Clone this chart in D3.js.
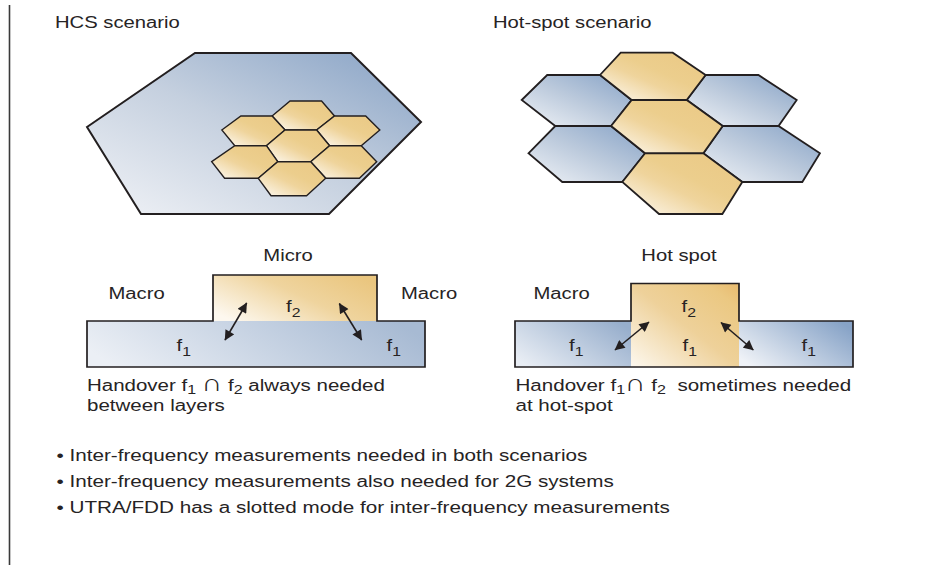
<!DOCTYPE html>
<html><head><meta charset="utf-8">
<script src="https://cdn.jsdelivr.net/npm/d3@7"></script>
<style>html,body{margin:0;padding:0;background:#fff}svg{display:block}text{font-family:"Liberation Sans",Arial,Helvetica,sans-serif;fill:#262324}</style>
</head><body>
<svg id="c" width="925" height="565"></svg>
<script>
// ---------- content ----------
const titles = ["HCS scenario", "Hot-spot scenario"];
const bullets = [
  "Inter-frequency measurements needed in both scenarios",
  "Inter-frequency measurements also needed for 2G systems",
  "UTRA/FDD has a slotted mode for inter-frequency measurements"
];
const hcsLabels = ["Micro", "Macro", "Macro"];
const hotLabels = ["Hot spot", "Macro"];
const hcsCaption = [["Handover f", {sub: "1"}, " ", {sym: "\u2229"}, " f", {sub: "2"}, " always needed"], ["between layers"]];
const hotCaption = [["Handover f", {sub: "1"}, {sym: "\u2229"}, " f", {sub: "2"}, "\u00a0 sometimes needed"], ["at hot-spot"]];

// hexagon lattice cells: [q, row] (q in circumradius units, row in half-height units)
const hexUnit = [[-1, 0], [-0.5, -1], [0.5, -1], [1, 0], [0.5, 1], [-0.5, 1]];
const bigHexCell = [[0, 0]];
const hcsMicroCells = [[0, -2], [-1.5, -1], [1.5, -1], [0, 0], [-1.5, 1], [1.5, 1], [0, 2]];
const hotGoldCells = [[0, -2], [0, 0], [0, 2]];
const hotBlueCells = [[-1.5, -1], [1.5, -1], [-1.5, 1], [1.5, 1]];
const rows7 = [-3, -2, -1, 0, 1, 2, 3];

// ---------- perspective projections (d3 scales, per lattice row) ----------
const bigY = d3.scaleLinear().domain([-1, 0, 1]).range([53, 124.5, 214]);
const bigCx = d3.scaleLinear().domain([-1, 0, 1]).range([273, 254, 235]);
const bigS = d3.scaleLinear().domain([-1, 0, 1]).range([156, 167, 188]);
const bigTilt = d3.scaleLinear().domain([-1, 0, 1]).range([0, -2.5, 0]);

const hcsY = d3.scaleLinear().domain(rows7).range([101, 116, 130, 145.7, 161.7, 178.3, 195.7]);
const hcsCx = d3.scaleLinear().domain(rows7).range([305.8, 303.3, 300.8, 298, 294.2, 292, 288.8]);
const hcsS = d3.scaleLinear().domain(rows7).range([31.5, 31.2, 31.6, 31.6, 33, 33.7, 35.5]);

const hotY = d3.scaleLinear().domain(rows7).range([52.7, 75, 100, 126, 153.3, 182, 214]);
const hotCx = d3.scaleLinear().domain(rows7).range([646.7, 652.8, 659.2, 666.9, 674.2, 682.3, 690.7]);
const hotS = d3.scaleLinear().domain(rows7).range([52, 52.8, 55, 55.8, 58.3, 60, 63.3]);

function proj(ys, cxs, ss, tilt) {
  return ([q, r]) => [cxs(r) + q * ss(r), ys(r) + (tilt ? tilt(r) * q : 0)];
}
const pBig = proj(bigY, bigCx, bigS, bigTilt);
const pHcs = proj(hcsY, hcsCx, hcsS);
const pHot = proj(hotY, hotCx, hotS);

// ---------- layer profiles (x positions / y levels) ----------
const hcsBaseX = [87, 425];
const hcsMicroX = [213, 377];
const hcsLevels = {top: 275, mid: 321, bottom: 367};
const hotBaseX = [515, 853];
const hotSpotX = [631, 739];
const hotLevels = {top: 283.5, mid: 321, bottom: 367};

const arrows = [
  [[225, 340], [246.7, 303]],
  [[339.3, 303.5], [361.7, 340]],
  [[615, 350], [649, 322]],
  [[721, 322.5], [753.3, 350]]
];

// ---------- style ----------
const FS = 17.3, SX = 1.17, SUB = 13.5;
const INK = "#231f20";

const svg = d3.select("#c");
const defs = svg.append("defs");

function grad(id, stops, x1 = 0, y1 = 1, x2 = 1, y2 = 0) {
  const g = defs.append("linearGradient").attr("id", id)
    .attr("x1", x1).attr("y1", y1).attr("x2", x2).attr("y2", y2);
  stops.forEach(([o, c]) => g.append("stop").attr("offset", o).attr("stop-color", c));
}
grad("gBig", [[0, "#f1f3f7"], [0.5, "#c5d0df"], [1, "#87a2c5"]]);
grad("gGold", [[0, "#fefbf6"], [0.42, "#efd49c"], [0.58, "#ecce8d"], [1, "#eac884"]]);
grad("gBlue", [[0, "#f0f3f7"], [0.5, "#bccadc"], [1, "#87a3c7"]]);
grad("gMicro", [[0, "#fdf8ef"], [0.55, "#efd49e"], [1, "#eac67f"]], 0, 0.8, 1, 0.2);
grad("gBaseL", [[0, "#ebeff5"], [1, "#a7bad3"]], 0, 0.6, 1, 0.4);
grad("gHotL", [[0, "#e8edf4"], [1, "#97aecc"]], 0, 0.8, 1, 0.2);
grad("gHotG", [[0, "#fdf8ef"], [0.5, "#eed19a"], [0.85, "#ebc882"], [1, "#e8ba6e"]], 0, 1, 1, 0);
grad("gHotR", [[0, "#eff2f7"], [1, "#87a3c7"]], 0, 0.8, 1, 0.2);

defs.append("marker").attr("id", "ah")
  .attr("viewBox", "0 0 10 10").attr("refX", 9.5).attr("refY", 5)
  .attr("markerUnits", "userSpaceOnUse").attr("markerWidth", 11).attr("markerHeight", 10)
  .attr("orient", "auto-start-reverse")
  .append("path").attr("d", "M0,0 L10,5 L0,10 Z").attr("fill", INK);

// left rule
svg.append("line").attr("x1", 9.5).attr("x2", 9.5).attr("y1", 5).attr("y2", 565)
  .attr("stroke", "#3a3a3a").attr("stroke-width", 1.6);

const line = d3.line();

function hexes(cells, p, fill, sw) {
  svg.append("g").selectAll("path").data(cells).join("path")
    .attr("d", c => line(hexUnit.map(v => p([c[0] + v[0], c[1] + v[1]]))) + "Z")
    .attr("fill", fill).attr("stroke", INK).attr("stroke-width", sw)
    .attr("stroke-linejoin", "miter");
}

// HCS scenario
hexes(bigHexCell, pBig, "url(#gBig)", 2);
hexes(hcsMicroCells, pHcs, "url(#gGold)", 1.4);
// Hot-spot scenario
hexes(hotBlueCells, pHot, "url(#gBlue)", 1.8);
hexes(hotGoldCells, pHot, "url(#gGold)", 1.8);

// text helper: strings, {sub} subscripts, {sym} enlarged symbol
function label(x, y, parts, anchor = "start", opts = {}) {
  const fs = opts.fs || FS, sx = opts.sx || SX, dy = opts.dy || 5;
  const t = svg.append("text")
    .attr("transform", `translate(${x},${y}) scale(${sx},1)`)
    .attr("text-anchor", anchor).style("font-size", fs + "px");
  let shifted = false;
  parts.forEach(p => {
    let s;
    if (typeof p === "string") s = t.append("tspan").text(p);
    else if (p.sym) s = t.append("tspan").style("font-size", "24px").style("font-weight", 300).text(p.sym);
    else { t.append("tspan").attr("dy", dy).style("font-size", SUB + "px").text(p.sub); shifted = true; return; }
    if (shifted) { s.attr("dy", -dy); shifted = false; }
  });
  return t;
}

// titles
label(55, 27.5, [titles[0]]);
label(493, 27.5, [titles[1]]);

// ---- HCS layers diagram ----
{
  const [x0, x1] = hcsBaseX;
  const [m0, m1] = hcsMicroX;
  const L = hcsLevels;
  svg.append("rect").attr("x", x0).attr("y", L.mid).attr("width", x1 - x0).attr("height", L.bottom - L.mid)
    .attr("fill", "url(#gBaseL)");
  svg.append("rect").attr("x", m0).attr("y", L.top).attr("width", m1 - m0).attr("height", L.mid - L.top)
    .attr("fill", "url(#gMicro)");
  svg.append("path").attr("d", line([[x0, L.bottom], [x0, L.mid], [m0, L.mid], [m0, L.top], [m1, L.top], [m1, L.mid], [x1, L.mid], [x1, L.bottom]]) + "Z")
    .attr("fill", "none").attr("stroke", INK).attr("stroke-width", 1.7);
}
label(288, 260.5, [hcsLabels[0]], "middle");
label(108.5, 298.5, [hcsLabels[1]]);
label(401, 298.5, [hcsLabels[2]]);
label(286, 311.5, ["f", {sub: "2"}]);
label(176.5, 350.5, ["f", {sub: "1"}]);
label(386.5, 350.5, ["f", {sub: "1"}]);
label(87, 390.5, hcsCaption[0], "start", {dy: 3.5, sx: 1.185});
label(87, 411, hcsCaption[1], "start", {sx: 1.185});

// ---- Hot-spot layers diagram ----
{
  const [x0, x1] = hotBaseX;
  const [h0, h1] = hotSpotX;
  const L = hotLevels;
  svg.append("rect").attr("x", x0).attr("y", L.mid).attr("width", h0 - x0).attr("height", L.bottom - L.mid)
    .attr("fill", "url(#gHotL)");
  svg.append("rect").attr("x", h0).attr("y", L.top).attr("width", h1 - h0).attr("height", L.bottom - L.top)
    .attr("fill", "url(#gHotG)");
  svg.append("rect").attr("x", h1).attr("y", L.mid).attr("width", x1 - h1).attr("height", L.bottom - L.mid)
    .attr("fill", "url(#gHotR)");
  svg.append("path").attr("d", line([[x0, L.bottom], [x0, L.mid], [h0, L.mid], [h0, L.top], [h1, L.top], [h1, L.mid], [x1, L.mid], [x1, L.bottom]]) + "Z")
    .attr("fill", "none").attr("stroke", INK).attr("stroke-width", 1.7);
}
label(679, 260.5, [hotLabels[0]], "middle");
label(533.5, 298.5, [hotLabels[1]]);
label(681.5, 311.5, ["f", {sub: "2"}]);
label(569, 350.5, ["f", {sub: "1"}]);
label(682.5, 350.5, ["f", {sub: "1"}]);
label(801.5, 350.5, ["f", {sub: "1"}]);
label(515.5, 390.5, hotCaption[0], "start", {dy: 3.5, sx: 1.19});
label(515.5, 411, hotCaption[1], "start", {sx: 1.19});

// arrows
svg.append("g").selectAll("line").data(arrows).join("line")
  .attr("x1", d => d[0][0]).attr("y1", d => d[0][1])
  .attr("x2", d => d[1][0]).attr("y2", d => d[1][1])
  .attr("stroke", INK).attr("stroke-width", 1.6)
  .attr("marker-start", "url(#ah)").attr("marker-end", "url(#ah)");

// bullets
const by = d3.scaleLinear().domain([0, 1]).range([461, 487]);
bullets.forEach((b, i) => label(56.5, by(i), ["\u2022 " + b], "start", {sx: 1.195}));
</script>
</body></html>
